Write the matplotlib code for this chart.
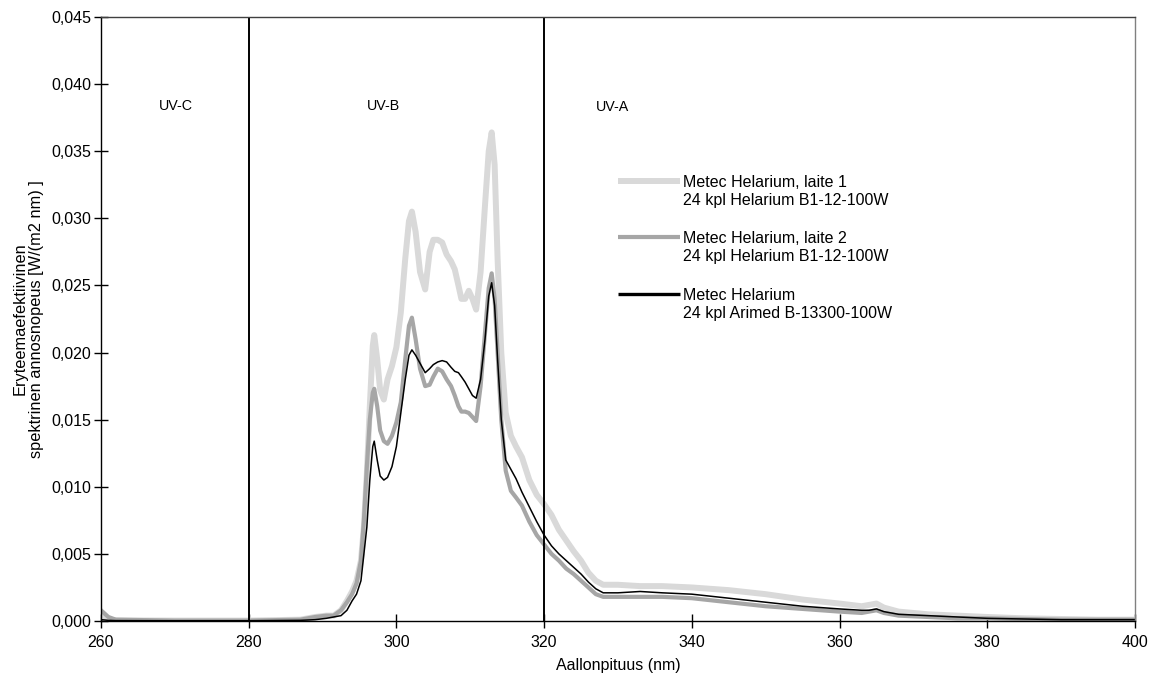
import matplotlib
matplotlib.use("Agg")
import matplotlib.pyplot as plt
from matplotlib.legend_handler import HandlerLine2D
from matplotlib.ticker import FuncFormatter, MultipleLocator

plt.rcParams["font.family"] = ["Liberation Sans", "DejaVu Sans"]

# wavelength grid (nm) shared by all three spectra
wavelength = [260, 261, 262, 270, 280, 287, 289, 290.5, 291.5, 292.5, 293.3, 294,
              294.6, 295.2, 295.6, 296.0, 296.4, 296.8, 297.0, 297.4, 297.8, 298.3,
              298.8, 299.4, 300.0, 300.6, 301.2, 301.7, 302.1, 302.6, 303.2, 303.9,
              304.5, 305.0, 305.6, 306.2, 306.8, 307.4, 307.9, 308.4, 308.8, 309.3,
              309.8, 310.3, 310.8, 311.4, 312.0, 312.5, 312.9, 313.3, 313.7, 314.2,
              314.8, 315.5, 316.2, 317.0, 318.0, 319.0, 320.0, 321.0, 322.0, 323.0,
              324.0, 325.0, 326.0, 327.0, 328.0, 330, 333, 336, 340, 345, 350, 355,
              360, 363, 364, 365, 366, 368, 372, 376, 380, 385, 390, 395, 400]

laite1 = [0.0004, 0.0001, 0.00005, 0.00003, 0.00003, 0.0001, 0.0003, 0.0004, 0.0004,
          0.0008, 0.0015, 0.0022, 0.0030, 0.0045, 0.0070, 0.0110, 0.0160, 0.0205,
          0.0213, 0.0195, 0.0172, 0.0165, 0.0180, 0.0190, 0.0204, 0.0230, 0.0270,
          0.0298, 0.0305, 0.0290, 0.0260, 0.0247, 0.0275, 0.0284, 0.0284, 0.0282,
          0.0273, 0.0268, 0.0262, 0.0250, 0.0240, 0.0240, 0.0246, 0.0240, 0.0232,
          0.0260, 0.0310, 0.0350, 0.0364, 0.0340, 0.0270, 0.0200, 0.0155, 0.0138,
          0.0130, 0.0122, 0.0105, 0.0094, 0.0087, 0.0079, 0.0068, 0.0060, 0.0052,
          0.0045, 0.0036, 0.0030, 0.0027, 0.0027, 0.0026, 0.0026, 0.0025, 0.0023,
          0.0020, 0.0016, 0.0013, 0.0011, 0.0012, 0.0013, 0.0010, 0.0007, 0.0005,
          0.0004, 0.0003, 0.0002, 0.00015, 0.0001, 0.0001]

laite2 = [0.0008, 0.0003, 0.0001, 0.00003, 0.00003, 0.0001, 0.0003, 0.0004, 0.0004,
          0.0008, 0.0014, 0.0020, 0.0028, 0.0045, 0.0075, 0.0115, 0.0150, 0.0170,
          0.0173, 0.0160, 0.0142, 0.0134, 0.0132, 0.0138, 0.0148, 0.0163, 0.0195,
          0.0220, 0.0226, 0.0210, 0.0188, 0.0175, 0.0176, 0.0182, 0.0188, 0.0186,
          0.0180, 0.0175, 0.0168, 0.0160, 0.0156, 0.0156, 0.0155, 0.0152, 0.0149,
          0.0175, 0.0215, 0.0248, 0.0259, 0.0240, 0.0200, 0.0150, 0.0112, 0.0097,
          0.0092, 0.0086, 0.0074, 0.0064, 0.0057, 0.0050, 0.0045, 0.0039, 0.0035,
          0.0030, 0.0025, 0.0020, 0.0018, 0.0018, 0.0018, 0.0018, 0.0017, 0.0014,
          0.0011, 0.0009, 0.0007, 0.0006, 0.0007, 0.0008, 0.0006, 0.0004, 0.0003,
          0.0002, 0.0002, 0.00015, 0.0001, 0.0001, 0.0001]

arimed = [0.0001, 0.00005, 0.00003, 0.00002, 0.00002, 0.00005, 0.0001, 0.0002, 0.0003,
          0.0004, 0.0008, 0.0015, 0.0020, 0.0030, 0.0050, 0.0070, 0.0105, 0.0130,
          0.0134, 0.0120, 0.0108, 0.0105, 0.0107, 0.0115, 0.0130, 0.0155, 0.0180,
          0.0198, 0.0202, 0.0198, 0.0192, 0.0185, 0.0188, 0.0191, 0.0193, 0.0194,
          0.0193, 0.0189, 0.0186, 0.0185, 0.0182, 0.0178, 0.0173, 0.0168, 0.0166,
          0.0180, 0.0210, 0.0242, 0.0252, 0.0235, 0.0195, 0.0150, 0.0120, 0.0113,
          0.0106, 0.0096, 0.0085, 0.0074, 0.0064, 0.0056, 0.0050, 0.0045, 0.0040,
          0.0035, 0.0029, 0.0024, 0.0021, 0.0021, 0.0022, 0.0021, 0.0020, 0.0017,
          0.0014, 0.0011, 0.0009, 0.0008, 0.0008, 0.0009, 0.0007, 0.0005, 0.0004,
          0.0003, 0.0002, 0.00015, 0.0001, 0.0001, 0.0001]

labels = ["Metec Helarium, laite 1\n24 kpl Helarium B1-12-100W",
          "Metec Helarium, laite 2\n24 kpl Helarium B1-12-100W",
          "Metec Helarium\n24 kpl Arimed B-13300-100W"]

band_edges = [280, 320]
band_names = ["UV-C", "UV-B", "UV-A"]
band_label_x = [270.1, 298.3, 329.2]
band_label_y = [0.0384, 0.0384, 0.0383]

FS = 11.5
LEG_LINESPACING = 1.25


class FirstRowLine(HandlerLine2D):
    """Legend line aligned with the first row of a two-row label."""

    def create_artists(self, legend, orig_handle, xdescent, ydescent, width,
                       height, fontsize, trans):
        artists = super().create_artists(legend, orig_handle, xdescent, ydescent,
                                         width, height, fontsize, trans)
        for a in artists:
            a.set_ydata([y + 0.55 * LEG_LINESPACING * fontsize for y in a.get_ydata()])
        return artists


fig = plt.figure(figsize=(11.58, 6.79), dpi=100)
ax = fig.add_axes([0.0872, 0.0854, 0.8929, 0.8896])

ax.plot(wavelength, laite1, color="#d9d9d9", lw=4.3, solid_joinstyle="round",
        label=labels[0])
ax.plot(wavelength, laite2, color="#a6a6a6", lw=3.0, solid_joinstyle="round",
        label=labels[1])
ax.plot(wavelength, arimed, color="black", lw=1.1, label=labels[2])

for edge in band_edges:
    ax.axvline(edge, color="black", lw=1.4)
for name, x, y in zip(band_names, band_label_x, band_label_y):
    ax.text(x, y, name, ha="center", va="center", fontsize=10.3)

ax.set_xlim(260, 400)
ax.set_ylim(0, 0.045)
ax.xaxis.set_major_locator(MultipleLocator(20))
ax.yaxis.set_major_locator(MultipleLocator(0.005))
ax.yaxis.set_major_formatter(FuncFormatter(lambda v, p: f"{v:.3f}".replace(".", ",")))
ax.tick_params(direction="inout", length=10, width=1, labelsize=FS)
ax.tick_params(axis="x", pad=5)
ax.tick_params(axis="y", pad=2)

for s in ax.spines.values():
    s.set_linewidth(1.0)
ax.spines["top"].set_color("#404040")
ax.spines["right"].set_color("#808080")

ax.set_xlabel("Aallonpituus (nm)", fontsize=FS, labelpad=6)
ax.set_ylabel("Eryteemaefektiivinen\nspektrinen annosnopeus [W/(m2 nm) ]",
              fontsize=11.8, labelpad=5, linespacing=1.1)

leg = ax.legend(loc="upper left", bbox_to_anchor=(0.5, 0.7385), frameon=False,
                fontsize=FS, handlelength=3.9, handletextpad=0.2,
                labelspacing=1.475, borderaxespad=0, borderpad=0,
                handler_map={plt.Line2D: FirstRowLine()})
for t in leg.get_texts():
    t.set_linespacing(LEG_LINESPACING)
for line in leg.get_lines():
    line.set_solid_capstyle("butt")
leg.get_lines()[2].set_linewidth(2.4)

fig.savefig("out.png", dpi=100)
